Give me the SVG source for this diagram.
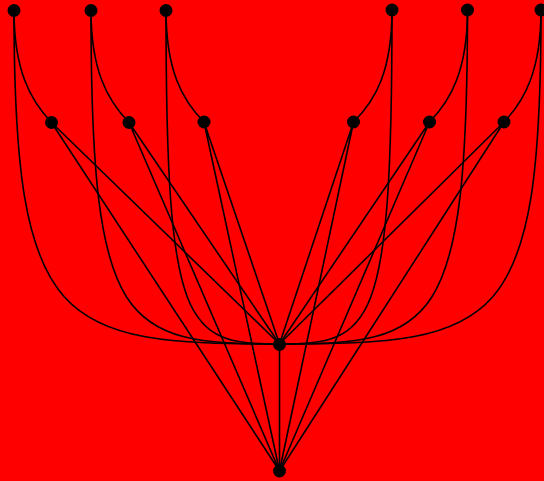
<svg xmlns="http://www.w3.org/2000/svg" width="544" height="481" viewBox="0 0 544 481">
<style>
.e{fill:none;stroke:#000;stroke-width:1.6}
.n{fill:#000}
</style>
<rect width="544" height="481" fill="#ff0000"/>
<g id="edges">
<path class="e" d="M14,10 C14,70 30,100 51.5,122.5"/>
<path class="e" d="M91,10 C91,70 107,100 129,122.5"/>
<path class="e" d="M166,10 C166,70 182,100 204,122"/>
<path class="e" d="M392,10 C392,70 376,100 353.5,122"/>
<path class="e" d="M467.5,10 C467.5,70 451,100 429.5,122"/>
<path class="e" d="M541,10 C541,70 525,100 504,122"/>
<path class="e" d="M14,10 C14,330 60,344 279.5,344"/>
<path class="e" d="M91,10 C91,330 123,344 279.5,344"/>
<path class="e" d="M166,10 C166,330 185,344 279.5,344"/>
<path class="e" d="M392,10 C392,330 373,344 279.5,344"/>
<path class="e" d="M467.5,10 C467.5,330 435,344 279.5,344"/>
<path class="e" d="M541,10 C541,330 499,344 279.5,344"/>
<path class="e" d="M51.5,122.5 L279.5,344 M51.5,122.5 L279.5,471"/>
<path class="e" d="M129,122.5 L279.5,344 M129,122.5 L279.5,471"/>
<path class="e" d="M204,122 L279.5,344 M204,122 L279.5,471"/>
<path class="e" d="M353.5,122 L279.5,344 M353.5,122 L279.5,471"/>
<path class="e" d="M429.5,122 L279.5,344 M429.5,122 L279.5,471"/>
<path class="e" d="M504,122 L279.5,344 M504,122 L279.5,471"/>
<path class="e" d="M279.5,344 L279.5,471"/>
</g>
<g id="t1"><circle class="n" cx="14" cy="10.5" r="6.5"/></g>
<g id="t2"><circle class="n" cx="91" cy="10.5" r="6.5"/></g>
<g id="t3"><circle class="n" cx="166" cy="10.5" r="6.5"/></g>
<g id="t4"><circle class="n" cx="392" cy="10" r="6.5"/></g>
<g id="t5"><circle class="n" cx="467.5" cy="10" r="6.5"/></g>
<g id="t6"><circle class="n" cx="541" cy="10" r="6.5"/></g>
<g id="m1"><circle class="n" cx="51.5" cy="122.5" r="6.5"/></g>
<g id="m2"><circle class="n" cx="129" cy="122.5" r="6.5"/></g>
<g id="m3"><circle class="n" cx="204" cy="122" r="6.5"/></g>
<g id="m4"><circle class="n" cx="353.5" cy="122" r="6.5"/></g>
<g id="m5"><circle class="n" cx="429.5" cy="122" r="6.5"/></g>
<g id="m6"><circle class="n" cx="504" cy="122" r="6.5"/></g>
<g id="c"><circle class="n" cx="279.5" cy="344.5" r="6.5"/></g>
<g id="b"><circle class="n" cx="279.5" cy="471" r="6.5"/></g>
</svg>
